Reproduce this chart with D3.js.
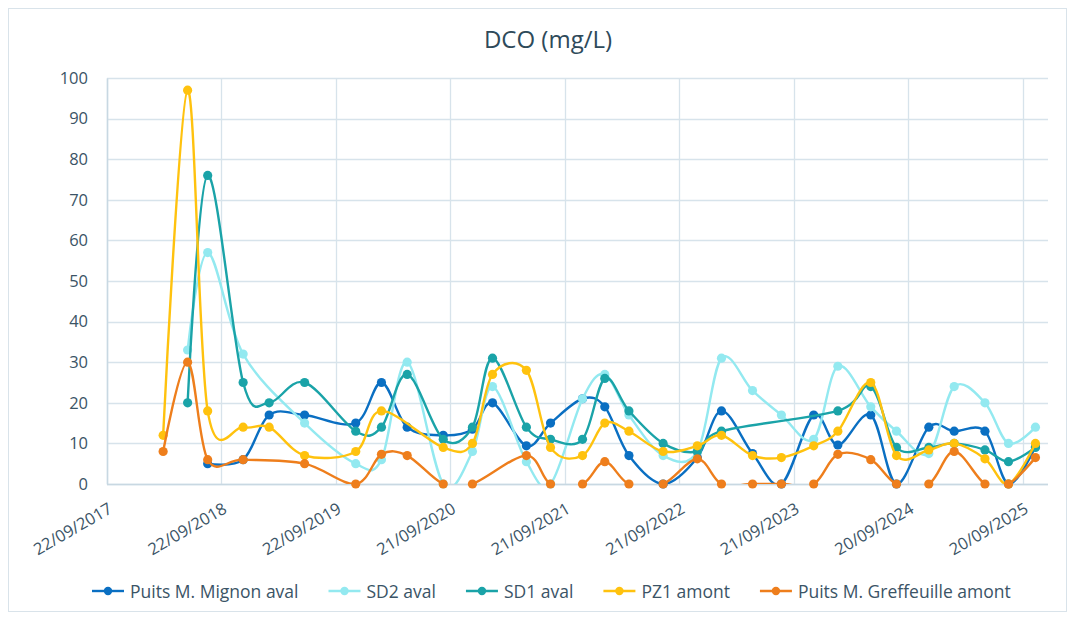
<!DOCTYPE html>
<html>
<head>
<meta charset="utf-8">
<title>DCO (mg/L)</title>
<script src="https://cdn.jsdelivr.net/npm/d3@7"></script>
<style>
  body { margin:0; background:#fff; }
  svg { display:block; font-family:"Open Sans", sans-serif; }
</style>
</head>
<body>
<svg id="chart" width="1075" height="617"></svg>
<script>
// sample dates (one row per campaign)
const dates=["2018-03-20","2018-06-06","2018-08-09","2018-11-30","2019-02-21","2019-06-14","2019-11-24",
  "2020-02-14","2020-05-06","2020-08-29","2020-11-30","2021-02-02","2021-05-21","2021-08-06","2021-11-16",
  "2022-01-26","2022-04-13","2022-07-31","2022-11-17","2023-02-02","2023-05-12","2023-08-12","2023-11-23",
  "2024-02-08","2024-05-23","2024-08-13","2024-11-24","2025-02-13","2025-05-22","2025-08-05","2025-10-30"]

const mignon=[null,null,5,6,17,17,15,25,14,12,13.5,20,9.4,15,21,19,7,0,6.5,18,7.5,0,17,9.6,17,0,14,13,13,0,9.2]
const sd2=[null,33,57,32,null,15,5,6,30,0,8,24,5.5,0,21,27,17,7,8,31,23,17,11,29,19,13,7.5,24,20,10,14]
const sd1=[null,20,76,25,20,25,13,14,27,11,14,31,14,11,11,26,18,10,8,13,null,null,null,18,24,9,9,10,8.4,5.5,9]
const pz1=[12,97,18,14,14,7,8,18,null,9,10,27,28,9,7,15,13,8,9.4,12,7,6.5,9.4,13,25,7,8.4,10,6.2,0,10]
const greffeuille=[8,30,6,6,null,5,0,7.3,7,0,0,null,7,0,0,5.5,0,0,6.2,0,0,0,0,7.3,6,0,0,8,0,0,6.5]

const seriesNames=["Puits M. Mignon aval","SD2 aval","SD1 aval","PZ1 amont","Puits M. Greffeuille amont"]
const seriesValues=[mignon,sd2,sd1,pz1,greffeuille]
const colors=["#0a6fc2","#93e9f0","#1aa3a8","#ffc20e","#ee7e1c"]

const xTicks=["2017-09-22","2018-09-22","2019-09-22","2020-09-21","2021-09-21","2022-09-21","2023-09-21","2024-09-20","2025-09-20"]
const yTicks=[0,10,20,30,40,50,60,70,80,90,100]

const parse=d3.utcParse("%Y-%m-%d")
const fmt=d3.utcFormat("%d/%m/%Y")
const textCol="#3b5466"

const svg=d3.select("#chart")
const m={left:107, right:1048, top:78, bottom:484}

const x=d3.scaleUtc().domain([parse("2017-09-22"), parse("2025-12-09")]).range([m.left,m.right])
const y=d3.scaleLinear().domain([0,100]).range([m.bottom,m.top])

// outer frame
svg.append("rect").attr("x",8.5).attr("y",8.5).attr("width",1058).attr("height",603)
  .attr("fill","#fff").attr("stroke","#d9e3ea")

svg.append("text").attr("x",548).attr("y",48).attr("text-anchor","middle")
  .attr("font-size",24).attr("fill","#2e4a5a").text("DCO (mg/L)")

// grid
const grid=svg.append("g")
grid.selectAll(".hg").data(yTicks).join("line")
  .attr("x1",m.left).attr("x2",m.right)
  .attr("y1",d=>Math.round(y(d))+0.5).attr("y2",d=>Math.round(y(d))+0.5)
  .attr("stroke","#d7e3eb").attr("stroke-width",1.3)
grid.selectAll(".vg").data(xTicks).join("line")
  .attr("x1",d=>Math.round(x(parse(d)))+0.5).attr("x2",d=>Math.round(x(parse(d)))+0.5)
  .attr("y1",m.top).attr("y2",m.bottom)
  .attr("stroke","#d7e3eb").attr("stroke-width",1.3)
svg.append("line").attr("x1",m.left).attr("x2",m.right).attr("y1",m.bottom+0.5).attr("y2",m.bottom+0.5)
  .attr("stroke","#c8d8e2").attr("stroke-width",1.5)

// y axis labels
const yAxis=svg.append("g").attr("transform",`translate(${m.left},0)`)
  .call(d3.axisLeft(y).tickValues(yTicks).tickSize(0).tickPadding(19))
yAxis.select(".domain").attr("stroke","#c8d8e2").attr("stroke-width",1.5)
yAxis.selectAll("text").attr("font-size",16.5).attr("fill",textCol).attr("font-family","Open Sans")

// x axis labels, rotated 30deg
const xAxis=svg.append("g").attr("transform",`translate(0,${m.bottom})`)
  .call(d3.axisBottom(x).tickValues(xTicks.map(parse)).tickFormat(fmt).tickSize(0))
xAxis.select(".domain").remove()
xAxis.selectAll("text").attr("font-size",16.5).attr("fill",textCol).attr("font-family","Open Sans")
  .attr("text-anchor","end").attr("dy",0).attr("y",0)
  .attr("transform","translate(6,28) rotate(-30)")

// series
svg.append("clipPath").attr("id","plotclip").append("rect")
  .attr("x",m.left).attr("y",m.top).attr("width",m.right-m.left).attr("height",m.bottom-m.top)

const line=d3.line().x(d=>x(d.date)).y(d=>y(d.v)).curve(d3.curveCardinal.tension(0))

seriesValues.forEach((vals,i)=>{
  const pts=[]
  vals.forEach((v,j)=>{ if (v!==null) pts.push({date:parse(dates[j]), v:v}) })
  const g=svg.append("g")
  g.append("path").datum(pts).attr("d",line).attr("fill","none")
    .attr("stroke",colors[i]).attr("stroke-width",2.4).attr("clip-path","url(#plotclip)")
  g.selectAll("circle").data(pts).join("circle")
    .attr("cx",d=>x(d.date)).attr("cy",d=>y(d.v)).attr("r",4.6).attr("fill",colors[i])
})

// legend
let lx=92
const ly=591
seriesNames.forEach((name,i)=>{
  const g=svg.append("g")
  g.append("line").attr("x1",lx).attr("x2",lx+32).attr("y1",ly).attr("y2",ly)
    .attr("stroke",colors[i]).attr("stroke-width",2.4)
  g.append("circle").attr("cx",lx+16).attr("cy",ly).attr("r",4.2).attr("fill",colors[i])
  const t=g.append("text").attr("x",lx+38).attr("y",ly+7).attr("font-size",17.5)
    .attr("fill",textCol).text(name)
  lx+=38+t.node().getComputedTextLength()+30
})
</script>
</body>
</html>
